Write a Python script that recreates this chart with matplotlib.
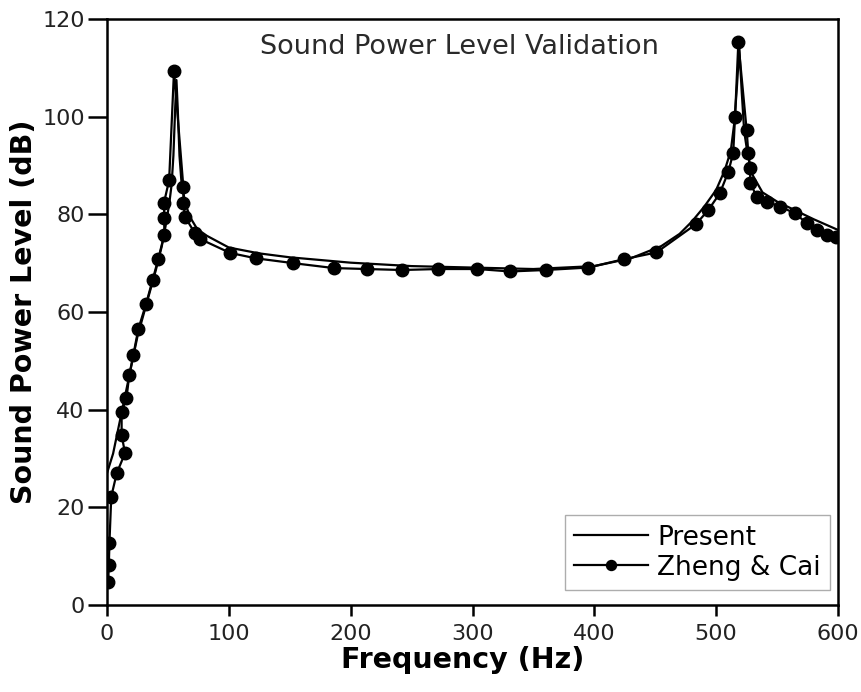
import matplotlib.pyplot as plt
import numpy as np

plt.rcParams["font.family"] = "DejaVu Sans"

# Present model: sound power level (dB) vs frequency (Hz)
present_freq = [0, 5, 10, 15, 20, 25, 30, 35, 40, 45, 48, 51, 53, 54.5, 56, 57,
                58, 59.5, 61, 64, 68, 74, 82, 100, 125, 150, 200, 250, 300, 350,
                400, 430, 455, 470, 480, 490, 500, 507, 512, 515, 517, 519, 521,
                523, 526, 530, 538, 550, 565, 580, 600]
present_level = [27, 31, 37, 43, 49, 55, 59.5, 64, 68.5, 73.5, 77.5, 82, 86, 92,
                 102, 107.5, 102, 92, 87, 82.5, 79.5, 77, 75.6, 73.2, 72, 71.2,
                 70.1, 69.4, 69.1, 68.8, 69.4, 71, 73.5, 76, 78.5, 81.5, 85, 89,
                 93, 99, 106, 114, 105, 97, 92, 88, 84.5, 82.6, 80.8, 79, 76.8]

# Zheng & Cai reference data
zheng_freq = [1, 1.5, 2, 3.5, 8, 14.8, 12, 12, 16, 18.3, 21.6, 25.7, 32, 37.5,
              42, 47, 47, 46.8, 51, 55, 62.7, 62.7, 64, 72, 76, 101, 122, 153,
              186, 213, 242, 272, 304, 331, 360, 395, 424, 451, 483.5, 493.6, 503,
              510, 514, 515.5, 518.2, 525, 526.4, 527.8, 528, 533.3, 541.5, 552.4,
              564.7, 574.3, 582.5, 590.7, 598]
zheng_level = [4.8, 8.2, 12.7, 22.2, 27, 31.1, 34.8, 39.6, 42.4, 47.1, 51.2, 56.5,
               61.6, 66.6, 70.8, 75.8, 79.2, 82.4, 87, 109.4, 85.5, 82.3, 79.5,
               76.2, 75, 72.1, 71, 70, 69, 68.8, 68.6, 68.8, 68.8, 68.3, 68.6, 69.1,
               70.8, 72.2, 78, 80.9, 84.3, 88.7, 92.6, 100, 115.2, 97.3, 92.5, 89.4,
               86.4, 83.6, 82.6, 81.6, 80.2, 78.2, 76.8, 75.8, 75.4]

fig = plt.figure(figsize=(8.61, 6.92), dpi=100)
ax = fig.add_axes([107 / 861, 1 - 605 / 692, 731 / 861, 586 / 692])

ax.plot(present_freq, present_level, color="black", linewidth=1.6,
        label="Present", zorder=3)
ax.plot(zheng_freq, zheng_level, color="black", linewidth=1.6, marker="o",
        markersize=9, label="Zheng & Cai", zorder=2)

ax.set_xlim(0, 600)
ax.set_ylim(0, 120)
ax.set_xticks(np.arange(0, 601, 100))
ax.set_yticks(np.arange(0, 121, 20))

for side in ax.spines.values():
    side.set_linewidth(1.8)
ax.tick_params(axis="x", direction="out", length=8, width=1.8, pad=6,
               labelsize=16, colors="black", labelcolor="#222222")
ax.tick_params(axis="y", direction="out", length=14, width=1.8, pad=2,
               labelsize=16, colors="black", labelcolor="#222222")

ax.set_xlabel("Frequency (Hz)", fontsize=20.5, fontweight="bold", labelpad=1)
ax.xaxis.label.set_x(0.487)
ax.set_ylabel("Sound Power Level (dB)", fontsize=20.5, fontweight="bold",
              labelpad=3)

ax.text(0.482, 0.952, "Sound Power Level Validation", transform=ax.transAxes,
        ha="center", va="center", fontsize=19.5, color="#2a2a2a")

leg = ax.legend(loc="lower right", bbox_to_anchor=(0.989, 0.026),
                borderaxespad=0, fontsize=19, numpoints=1, fancybox=False,
                handlelength=2.8, handletextpad=0.35, labelspacing=0.15,
                borderpad=0.35, markerscale=0.8)
leg.get_frame().set_edgecolor("#999999")
leg.get_frame().set_linewidth(1.0)

fig.savefig("out.png", dpi=100)
